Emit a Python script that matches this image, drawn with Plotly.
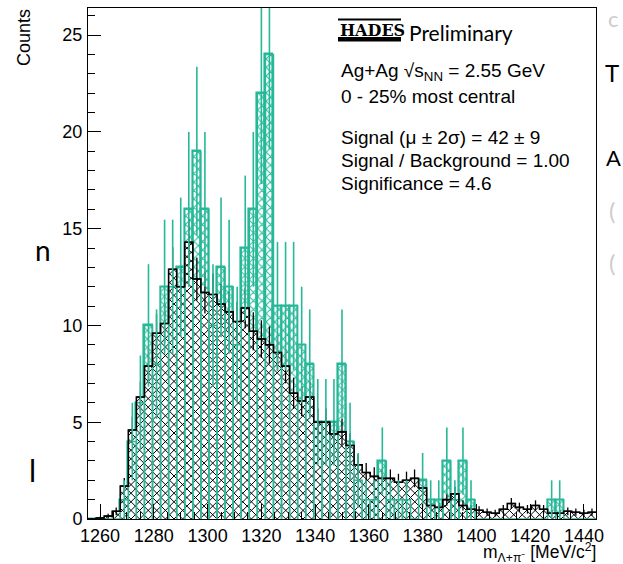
import math
import numpy as np
import plotly.graph_objects as go

# ---------------- data ----------------
# bin centres of the invariant-mass histogram [MeV/c^2], bin width 3 MeV
mass_bins = list(range(1257, 1444, 3))
bin_width = 3.0

# same-event counts (teal, hatched)
same_event = [0, 0, 0, 0, 1, 4, 6, 10, 8, 12,
              12, 13, 16, 19, 16, 10, 13, 12, 9, 14,
              16, 22, 24, 11, 11, 11, 9, 8, 5, 5,
              5, 8, 4, 2, 1, 1, 3, 1, 1, 1,
              0, 2, 1, 1, 3, 1, 3, 1, 0, 0,
              0, 0, 0, 0, 0, 0, 0, 1, 1, 0,
              0, 0, 0]

# scaled mixed-event background (black, hatched)
background = [0.0, 0.05, 0.15, 0.4, 1.7, 4.6, 6.3, 7.9, 9.6, 10.1,
              12.9, 12.0, 14.3, 12.4, 11.7, 11.6, 11.1, 10.7, 10.2, 10.9,
              9.7, 9.3, 9.0, 8.6, 7.9, 6.5, 6.1, 6.3, 5.0, 5.0,
              4.4, 4.5, 3.8, 2.8, 2.4, 2.2, 2.1, 2.1, 1.9, 2.0,
              2.1, 1.6, 0.7, 0.6, 1.0, 1.3, 0.7, 0.5, 0.45, 0.35,
              0.3, 0.5, 0.8, 0.6, 0.5, 0.7, 0.5, 0.3, 0.3, 0.4,
              0.35, 0.3, 0.35]
bkg_scale = 0.1  # mixed-event normalisation used for the background errors

x_ticks = [1260, 1280, 1300, 1320, 1340, 1360, 1380, 1400, 1420, 1440]
y_ticks = [0, 5, 10, 15, 20, 25]
x_range = [1255.5, 1444.5]
y_range = [0, 26.4]

# ---------------- styling / geometry ----------------
TEAL = "#26b898"
FONT = "Liberation Sans"
W, H = 623, 564
L, R, T, B = 88, 596, 8, 519
PW, PH = R - L, B - T
HATCH_STEP = 8.6  # px, horizontal spacing of the black cross-hatch lines

same_err = list(np.sqrt(np.array(same_event, dtype=float)))
bkg_err = list(np.sqrt(np.array(background) * bkg_scale))
half = bin_width / 2
edges = [c - half for c in mass_bins] + [mass_bins[-1] + half]
step_y = background + [background[-1]]

# per-bin box outlines of the teal histogram
box_x, box_y = [], []
for c, v in zip(mass_bins, same_event):
    box_x += [c - half, c - half, c + half, c + half, None]
    box_y += [0, v, v, 0, None]

# black 45-degree cross-hatch clipped to each background bin
kx = PW / (x_range[1] - x_range[0])
ky = PH / (y_range[1] - y_range[0])
hx, hy = [], []
for c, v in zip(mass_bins, background):
    if v <= 0:
        continue
    u0 = (c - half - x_range[0]) * kx
    u1 = (c + half - x_range[0]) * kx
    w1 = v * ky
    # rising lines  w = u - off
    k0 = math.floor((u0 - w1) / HATCH_STEP)
    k1 = math.ceil(u1 / HATCH_STEP)
    for k in range(k0, k1 + 1):
        off = k * HATCH_STEP
        lo, hi = max(u0, off), min(u1, w1 + off)
        if hi > lo:
            hx += [x_range[0] + lo / kx, x_range[0] + hi / kx, None]
            hy += [(lo - off) / ky, (hi - off) / ky, None]
    # falling lines  w = off - u
    k0 = math.floor(u0 / HATCH_STEP)
    k1 = math.ceil((u1 + w1) / HATCH_STEP)
    for k in range(k0, k1 + 1):
        off = k * HATCH_STEP
        lo, hi = max(u0, off - w1), min(u1, off)
        if hi > lo:
            hx += [x_range[0] + lo / kx, x_range[0] + hi / kx, None]
            hy += [(off - lo) / ky, (off - hi) / ky, None]

fig = go.Figure()

# teal hatched boxes
fig.add_trace(go.Bar(
    x=mass_bins, y=same_event, width=bin_width, uid="sig",
    marker=dict(color=TEAL, line=dict(color=TEAL, width=1.6),
                pattern=dict(shape="x", fgcolor=TEAL, bgcolor="white",
                             size=6, solidity=0.3, fillmode="replace")),
    hoverinfo="skip", showlegend=False))

# opaque white area under the background histogram
fig.add_trace(go.Bar(
    x=mass_bins, y=background, width=bin_width, uid="bkgfill",
    marker=dict(color="white", line=dict(width=0)),
    hoverinfo="skip", showlegend=False))

# black cross-hatch
fig.add_trace(go.Scatter(
    x=hx, y=hy, mode="lines", line=dict(color="black", width=1.0),
    hoverinfo="skip", showlegend=False, connectgaps=False))

# teal box outlines on top
fig.add_trace(go.Scatter(
    x=box_x, y=box_y, mode="lines", line=dict(color=TEAL, width=1.5),
    hoverinfo="skip", showlegend=False))

# black step contour
fig.add_trace(go.Scatter(
    x=edges, y=step_y, mode="lines", line=dict(color="black", width=1.6, shape="hv"),
    hoverinfo="skip", showlegend=False))

# black error crosses
fig.add_trace(go.Scatter(
    x=mass_bins, y=background, mode="markers",
    marker=dict(size=1, color="black"),
    error_y=dict(type="data", array=bkg_err, width=0, thickness=1.3, color="black"),
    error_x=dict(type="constant", value=half, width=0, thickness=1.3, color="black"),
    hoverinfo="skip", showlegend=False))

# teal error bars
fig.add_trace(go.Scatter(
    x=mass_bins, y=same_event, mode="markers",
    marker=dict(size=1, color=TEAL, opacity=0),
    error_y=dict(type="data", array=same_err, width=0, thickness=1.6, color=TEAL),
    hoverinfo="skip", showlegend=False))


# ---------------- annotations ----------------
def px(x, y):
    return (x - L) / PW, (B - y) / PH


annotations = []


def txt(text, x, y, size=19, family=FONT, color="black", xanchor="left", angle=0, yanchor="middle"):
    xp, yp = px(x, y)
    annotations.append(dict(text=text, x=xp, y=yp, xref="paper", yref="paper",
                            xanchor=xanchor, yanchor=yanchor, showarrow=False, textangle=angle,
                            font=dict(family=family, size=size, color=color)))


txt("<b>HADES</b>", 338, 30, size=16, family="DejaVu Serif")
txt("Preliminary", 407, 32, size=21, family="Lato")
txt("Ag+Ag \u221as<sub>NN</sub> = 2.55 GeV", 339, 72)
txt("0 - 25% most central", 339, 96)
txt("Signal (\u03bc \u00b1 2\u03c3) = 42 \u00b1 9", 339, 137)
txt("Signal / Background = 1.00", 339, 160)
txt("Significance = 4.6", 339, 183)

# axis titles
txt("Counts", 24, 38, size=18, xanchor="center", angle=-90)
txt("m<sub>\u039b+\u03c0\u207b</sub> [MeV/c<sup>2</sup>]", 598, 553, size=17.5, xanchor="right")

# slide fragments around the chart
txt("n", 33, 250, size=28, family="Lato")
txt("l", 27, 470, size=30, family="Lato")
txt("T", 612, 72, size=24, family="Lato", xanchor="center")
txt("A", 613, 157, size=22, family="Lato", xanchor="center")
txt("(", 612, 210, size=24, family="Lato", color="#cccccc", xanchor="center")
txt("(", 612, 262, size=24, family="Lato", color="#cccccc", xanchor="center")
txt("c", 613, 18, size=22, family="Lato", color="#cccccc", xanchor="center")

shapes = []
# HADES logo bars
x0p, y0p = px(338, 18.5)
x1p, y1p = px(401, 20.5)
shapes.append(dict(type="rect", xref="paper", yref="paper", x0=x0p, x1=x1p, y0=y0p, y1=y1p,
                   fillcolor="black", line=dict(width=0)))
x0p, y0p = px(338, 37)
x1p, y1p = px(401, 41.5)
shapes.append(dict(type="rect", xref="paper", yref="paper", x0=x0p, x1=x1p, y0=y0p, y1=y1p,
                   fillcolor="black", line=dict(width=0)))

fig.update_layout(
    width=W, height=H,
    margin=dict(l=L, r=W - R, t=T, b=H - B),
    paper_bgcolor="white", plot_bgcolor="white",
    barmode="overlay", bargap=0,
    annotations=annotations, shapes=shapes,
    xaxis=dict(range=x_range, tickvals=x_ticks, ticks="inside", ticklen=15, tickwidth=1,
               tickcolor="black", showline=True, linecolor="black", linewidth=1, mirror=True,
               showgrid=False, zeroline=False,
               tickfont=dict(family=FONT, size=18, color="black"), ticklabelstandoff=0,
               minor=dict(dtick=5, tick0=1260, ticks="inside", ticklen=7, tickcolor="black",
                          showgrid=False)),
    yaxis=dict(range=y_range, tickvals=y_ticks, ticks="inside", ticklen=13, tickwidth=1,
               tickcolor="black", showline=True, linecolor="black", linewidth=1, mirror=True,
               showgrid=False, zeroline=False,
               tickfont=dict(family=FONT, size=18, color="black"), ticklabelstandoff=1,
               minor=dict(dtick=1, tick0=0, ticks="inside", ticklen=7, tickcolor="black",
                          showgrid=False)),
)

fig.write_html("out.html")
